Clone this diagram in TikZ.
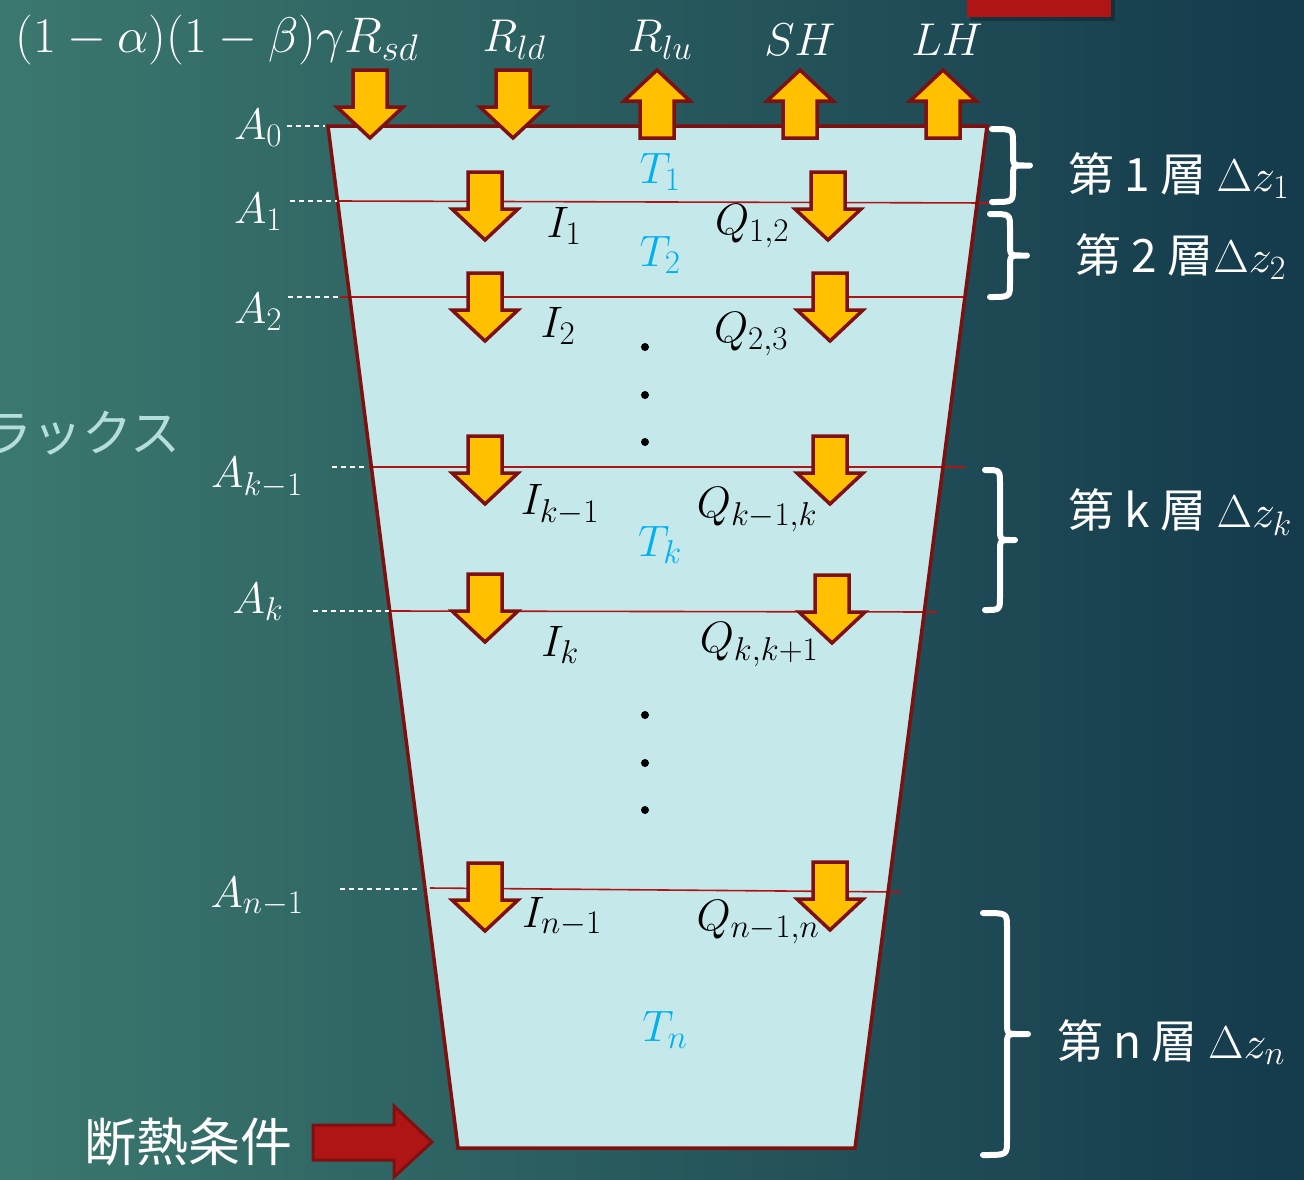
\RequirePackage{fix-cm}
\documentclass[tikz,border=0pt]{standalone}
\usepackage{fontspec}
\newfontfamily\jp{Noto Sans CJK JP}
\usetikzlibrary{calc}
\DeclareMathSizes{44}{44}{33}{26}
\DeclareMathSizes{46}{46}{34}{27}
\DeclareMathSizes{50}{50}{37}{29}
\definecolor{bgL}{HTML}{3B786E}
\definecolor{bgR}{HTML}{143A4C}
\definecolor{tankfill}{HTML}{C5E8EA}
\definecolor{darkred}{HTML}{7F1010}
\definecolor{linered}{HTML}{B01515}
\definecolor{arrowyellow}{HTML}{FFC000}
\definecolor{tblue}{HTML}{00B0F0}
\definecolor{fluxtxt}{HTML}{B5DEDA}
\tikzset{
  blockarrow/.style={fill=arrowyellow, draw=darkred, line width=3.5pt, line join=miter},
  dnarrow/.pic={\path[blockarrow] (-17,0) -- (17,0) -- (17,37) -- (33,37) -- (0,68) -- (-33,37) -- (-17,37) -- cycle;},
  uparrow/.pic={\path[blockarrow] (0,0) -- (33,31) -- (17,31) -- (17,68) -- (-17,68) -- (-17,31) -- (-33,31) -- cycle;},
  layerline/.style={draw=linered, line width=1.6pt},
  dashline/.style={draw=white, line width=1.3pt, dash pattern=on 5pt off 4pt},
  wlabel/.style={text=white, font=\fontsize{44}{48}\selectfont, inner sep=0pt},
  toplabel/.style={text=white, font=\fontsize{46}{50}\selectfont, inner sep=0pt},
  blabel/.style={text=black, font=\fontsize{44}{48}\selectfont, inner sep=0pt},
  tlabel/.style={text=tblue, font=\fontsize{44}{48}\selectfont, inner sep=0pt},
  jlabel/.style={text=white, font=\jp\fontsize{46}{50}\selectfont, inner sep=0pt, anchor=west},
  bracestyle/.style={draw=white, line width=6pt, line cap=round, line join=round},
  dotstyle/.style={fill=black, circle, inner sep=0pt, minimum size=8pt},
}
\newcommand{\layerbrace}[5]{% xl, top, bottom, spine, tip
  \draw[bracestyle] (#1,#2) .. controls (#4,#2) and (#4,#2) .. (#4,{#2+14})
    -- (#4,{(#2+#3)/2-12}) .. controls (#4,{(#2+#3)/2}) and (#4,{(#2+#3)/2}) .. ({#4+12},{(#2+#3)/2}) -- (#5,{(#2+#3)/2})
    ({#4+12},{(#2+#3)/2}) .. controls (#4,{(#2+#3)/2}) and (#4,{(#2+#3)/2}) .. (#4,{(#2+#3)/2+12})
    -- (#4,{#3-14}) .. controls (#4,#3) and (#4,#3) .. (#1,#3);}
\begin{document}
\begin{tikzpicture}[x=1pt,y=-1pt]
\useasboundingbox (0,0) rectangle (1304,1179);
% background
\shade[left color=bgL, right color=bgR] (0,0) rectangle (1304,1179);
% red rectangle at top right
\fill[black, opacity=0.25] (970,0) rectangle (1115,21);
\fill[linered] (967,0) rectangle (1111,17);
% partial flux label
\node[text=fluxtxt, font=\jp\fontsize{50}{54}\selectfont, anchor=west, inner sep=0pt] (flux) at (-18,433) {ラックス};
% tank
\path[fill=tankfill] (328,126) -- (987,126) -- (855,1148) -- (458,1148) -- cycle;
% layer lines
\draw[layerline] (338,201) -- (990,203);
\draw[layerline] (340,297) -- (965,297);
\draw[layerline] (368,467) -- (965,467);
\draw[layerline] (390,611) -- (937,612);
\draw[layerline] (430,888) -- (900,892);
\draw[draw=darkred, line width=3.5pt, line join=miter] (328,126) -- (987,126) -- (855,1148) -- (458,1148) -- cycle;
% dashed level markers
\draw[dashline] (287,126) -- (325,126);
\draw[dashline] (290,201) -- (337,201);
\draw[dashline] (288,297) -- (339,297);
\draw[dashline] (332,467) -- (368,467);
\draw[dashline] (313,611) -- (389,611);
\draw[dashline] (340,889) -- (417,889);
% A labels
\node[wlabel] (a0) at (258,128) {$A_0$};
\node[wlabel] (a1) at (258,212) {$A_1$};
\node[wlabel] (a2) at (258,312) {$A_2$};
\node[wlabel] (ak1) at (257,478) {$A_{k-1}$};
\node[wlabel] (ak) at (258,602) {$A_k$};
\node[wlabel] (an1) at (257,897) {$A_{n-1}$};
% top labels
\node[toplabel, font=\fontsize{50}{54}\selectfont] (rsd) at (217,40) {$(1-\alpha)(1-\beta)\gamma R_{sd}$};
\node[toplabel] (rld) at (514,40) {$R_{ld}$};
\node[toplabel] (rlu) at (660,40) {$R_{lu}$};
\node[toplabel] (sh) at (800,40) {$SH$};
\node[toplabel] (lh) at (947,40) {$LH$};
% top arrows
\pic (arsd) at (370,70) {dnarrow};
\pic (arld) at (513,70) {dnarrow};
\pic (arlu) at (657,70) {uparrow};
\pic (arsh) at (800,70) {uparrow};
\pic (arlh) at (943,70) {uparrow};
% interior arrows
\pic (ai1) at (485,172) {dnarrow};
\pic (aq12) at (828,172) {dnarrow};
\pic (ai2) at (485,273) {dnarrow};
\pic (aq23) at (830,273) {dnarrow};
\pic (aik1) at (485,436) {dnarrow};
\pic (aqk1) at (830,436) {dnarrow};
\pic (aik) at (485,574) {dnarrow};
\pic (aqk) at (832,575) {dnarrow};
\pic (ain1) at (485,863) {dnarrow};
\pic (aqn1) at (830,862) {dnarrow};
% T labels
\node[tlabel] (t1) at (660,172) {$T_1$};
\node[tlabel] (t2) at (660,255) {$T_2$};
\node[tlabel] (tk) at (660,545) {$T_k$};
\node[tlabel] (tn) at (665,1030) {$T_n$};
% I and Q labels
\node[blabel] (i1) at (564,226) {$I_1$};
\node[blabel] (q12) at (752,226) {$Q_{1,2}$};
\node[blabel] (i2) at (558,326) {$I_2$};
\node[blabel] (q23) at (751,334) {$Q_{2,3}$};
\node[blabel] (ik1) at (560,505) {$I_{k-1}$};
\node[blabel] (qk1) at (757,510) {$Q_{k-1,k}$};
\node[blabel] (ik) at (560,645) {$I_k$};
\node[blabel] (qk) at (759,645) {$Q_{k,k+1}$};
\node[blabel] (in1) at (562,917) {$I_{n-1}$};
\node[blabel] (qn1) at (758,922) {$Q_{n-1,n}$};
% dots
\node[dotstyle] (d1) at (645,347) {};
\node[dotstyle] (d2) at (645,395) {};
\node[dotstyle] (d3) at (645,442) {};
\node[dotstyle] (d4) at (645,715) {};
\node[dotstyle] (d5) at (645,763) {};
\node[dotstyle] (d6) at (645,810) {};
% braces
\layerbrace{992}{129}{202}{1013}{1030}
\layerbrace{990}{214}{297}{1010}{1027}
\layerbrace{985}{470}{610}{1000}{1015}
\layerbrace{983}{913}{1155}{1007}{1028}
% layer labels
\node[jlabel] (l1) at (1068,176) {第 1 層 $\Delta z_1$};
\node[jlabel] (l2) at (1075,257) {第 2 層$\Delta z_2$};
\node[jlabel] (lk) at (1068,512) {第 k 層 $\Delta z_k$};
\node[jlabel] (ln) at (1057,1042) {第 n 層 $\Delta z_n$};
% adiabatic condition
\node[text=white, font=\jp\fontsize{52}{56}\selectfont, anchor=west, inner sep=0pt] (adia) at (84,1142) {断熱条件};
\path[fill=linered, draw=darkred, line width=3pt, line join=miter] (313,1125) -- (394,1125) -- (394,1106) -- (432,1142) -- (394,1177) -- (394,1160) -- (313,1160) -- cycle;
\end{tikzpicture}
\end{document}
